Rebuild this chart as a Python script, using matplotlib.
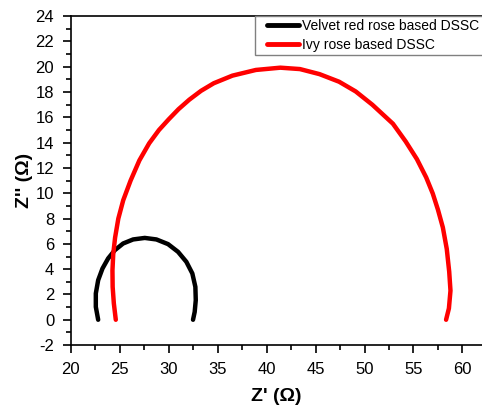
import matplotlib
matplotlib.use("Agg")
import matplotlib.pyplot as plt
from matplotlib.ticker import MultipleLocator

plt.rcParams["font.family"] = ["Liberation Sans", "DejaVu Sans"]
plt.rcParams["axes.unicode_minus"] = False

# Nyquist data
velvet_re = [22.79, 22.55, 22.55, 22.79, 23.23, 23.81, 24.49, 25.34, 26.36,
             27.55, 28.74, 29.93, 30.95, 31.80, 32.41, 32.72, 32.76, 32.65,
             32.48]
velvet_im = [0.0, 1.02, 2.08, 3.13, 4.05, 4.85, 5.50, 6.03, 6.35,
             6.47, 6.35, 5.98, 5.37, 4.58, 3.66, 2.60, 1.55, 0.62,
             0.0]

ivy_re = [24.59, 24.39, 24.27, 24.25, 24.33, 24.52, 24.85, 25.35, 26.10,
          27.00, 28.00, 29.00, 30.00, 31.00, 32.10, 33.30, 34.60, 36.50,
          38.90, 41.40, 43.40, 45.40, 47.40, 49.10, 50.80, 52.90, 54.20,
          55.35, 56.30, 56.97, 57.50, 58.00, 58.40, 58.65, 58.78, 58.62,
          58.33]
ivy_im = [0.0, 1.30, 2.60, 3.90, 5.20, 6.50, 8.00, 9.45, 11.00,
          12.60, 13.95, 15.00, 15.85, 16.65, 17.40, 18.10, 18.70, 19.30,
          19.75, 19.93, 19.82, 19.42, 18.82, 18.05, 17.00, 15.50, 14.10,
          12.70, 11.25, 9.98, 8.70, 7.30, 5.60, 3.80, 2.30, 0.90,
          0.0]

fig = plt.figure(figsize=(4.82, 4.05), dpi=100)
ax = fig.add_axes([0.147, 0.148, 0.853, 0.812])

ax.plot(velvet_re, velvet_im, color="black", lw=3.2, solid_capstyle="round",
        solid_joinstyle="round", label="Velvet red rose based DSSC")
ax.plot(ivy_re, ivy_im, color="red", lw=3.2, solid_capstyle="round",
        solid_joinstyle="round", label="Ivy rose based DSSC")

ax.set_xlim(20, 62)
ax.set_ylim(-2, 24)
ax.xaxis.set_major_locator(MultipleLocator(5))
ax.xaxis.set_minor_locator(MultipleLocator(2.5))
ax.yaxis.set_major_locator(MultipleLocator(2))
ax.yaxis.set_minor_locator(MultipleLocator(1))
ax.tick_params(which="major", direction="out", length=6, width=1.2,
               labelsize=12, pad=6)
ax.tick_params(which="minor", direction="out", length=3.5, width=1.2)
for s in ax.spines.values():
    s.set_linewidth(1.2)
ax.spines["right"].set_visible(False)

ax.set_xlabel("Z' (Ω)", fontsize=14, fontweight="bold", labelpad=8)
ax.set_ylabel("Z'' (Ω)", fontsize=14, fontweight="bold", labelpad=2)

leg = ax.legend(loc="upper right", bbox_to_anchor=(1.0, 1.0), borderaxespad=0,
                fontsize=10, handlelength=2.3, handletextpad=0.2,
                labelspacing=0.35, borderpad=0.2, fancybox=False,
                edgecolor="gray", framealpha=1)
for line in leg.get_lines():
    line.set_linewidth(3.5)
# wider frame on the sides than on top/bottom
frame = leg.get_frame()
frame.set_linewidth(1.0)
frame.set_boxstyle("square", pad=0.7)
frame.set_mutation_aspect(0.001)

fig.savefig("out.png", dpi=100)
